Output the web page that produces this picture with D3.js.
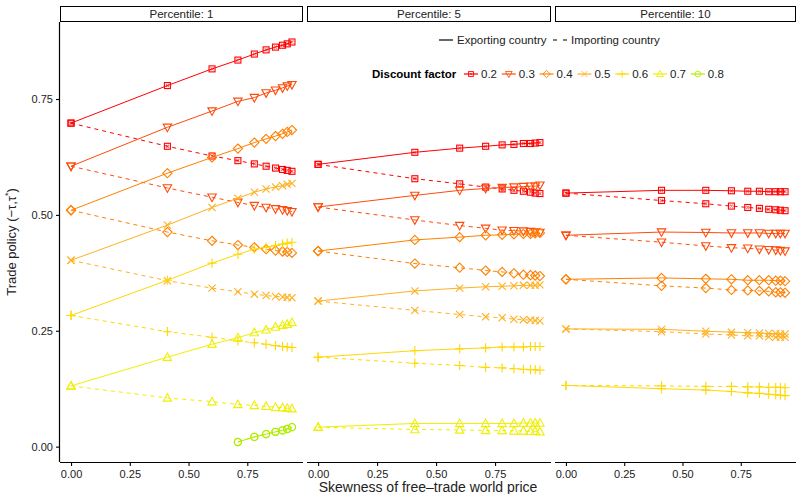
<!DOCTYPE html>
<html>
<head>
<meta charset="utf-8">
<script src="https://cdn.jsdelivr.net/npm/d3@7"></script>
<style>
  body { margin: 0; background: #fff; }
  text { font-family: "Liberation Sans", Arial, sans-serif; }
</style>
</head>
<body>
<div id="chart"></div>
<script>
// skewness of free-trade world price (x values shared by every series)
const skew = [0, 0.41, 0.6, 0.71, 0.78, 0.83, 0.87, 0.9, 0.92, 0.94];
const percentiles = [1, 5, 10];
const discount = ["0.2", "0.3", "0.4", "0.5", "0.6", "0.7", "0.8"];
const yTicks = [0, 0.25, 0.5, 0.75];
const xTicks = [0, 0.25, 0.5, 0.75];

// one row per discount factor, null = no value
const p1Export = [
  [0.698, 0.779, 0.815, 0.834, 0.847, 0.856, 0.862, 0.866, 0.869, 0.873],
  [0.605, 0.689, 0.724, 0.745, 0.753, 0.763, 0.769, 0.774, 0.778, 0.781],
  [0.510, 0.590, 0.624, 0.643, 0.656, 0.664, 0.670, 0.675, 0.679, 0.683],
  [0.402, 0.478, 0.516, 0.536, 0.549, 0.556, 0.560, 0.563, 0.566, 0.568],
  [0.283, 0.359, 0.396, 0.415, 0.426, 0.430, 0.434, 0.437, 0.439, 0.441],
  [0.131, 0.193, 0.221, 0.235, 0.246, 0.252, 0.258, 0.262, 0.264, 0.268],
  [null, null, null, 0.010, 0.021, 0.027, 0.032, 0.035, 0.038, 0.042]
];
const p1Import = [
  [0.698, 0.648, 0.627, 0.617, 0.610, 0.605, 0.601, 0.598, 0.596, 0.594],
  [0.605, 0.558, 0.538, 0.527, 0.520, 0.516, 0.513, 0.511, 0.509, 0.507],
  [0.510, 0.463, 0.444, 0.435, 0.430, 0.426, 0.423, 0.421, 0.420, 0.418],
  [0.402, 0.358, 0.342, 0.334, 0.329, 0.326, 0.324, 0.323, 0.322, 0.321],
  [0.283, 0.248, 0.236, 0.228, 0.224, 0.221, 0.218, 0.216, 0.215, 0.214],
  [0.131, 0.105, 0.097, 0.091, 0.089, 0.087, 0.085, 0.084, 0.083, 0.082],
  [null, null, null, 0.010, 0.021, 0.027, 0.032, 0.035, 0.038, 0.042]
];
const p5Export = [
  [0.609, 0.635, 0.644, 0.648, 0.651, 0.652, 0.654, 0.654, 0.655, 0.656],
  [0.517, 0.542, 0.553, 0.557, 0.559, 0.560, 0.561, 0.562, 0.562, 0.564],
  [0.422, 0.446, 0.452, 0.456, 0.457, 0.458, 0.459, 0.459, 0.460, 0.461],
  [0.314, 0.336, 0.342, 0.345, 0.346, 0.347, 0.348, 0.348, 0.348, 0.349],
  [0.193, 0.207, 0.211, 0.213, 0.215, 0.215, 0.215, 0.216, 0.216, 0.216],
  [0.042, 0.050, 0.050, 0.050, 0.050, 0.050, 0.051, 0.051, 0.051, 0.051],
  null
];
const p5Import = [
  [0.609, 0.578, 0.567, 0.560, 0.556, 0.553, 0.551, 0.549, 0.547, 0.546],
  [0.517, 0.489, 0.477, 0.471, 0.467, 0.466, 0.465, 0.464, 0.463, 0.462],
  [0.422, 0.395, 0.386, 0.380, 0.377, 0.374, 0.371, 0.370, 0.369, 0.368],
  [0.314, 0.294, 0.285, 0.280, 0.278, 0.275, 0.274, 0.273, 0.272, 0.271],
  [0.193, 0.180, 0.175, 0.171, 0.170, 0.168, 0.167, 0.166, 0.166, 0.165],
  [0.042, 0.037, 0.036, 0.035, 0.035, 0.034, 0.034, 0.033, 0.033, 0.032],
  null
];
const p10Export = [
  [0.547, 0.553, 0.553, 0.552, 0.551, 0.551, 0.550, 0.550, 0.550, 0.550],
  [0.456, 0.463, 0.462, 0.461, 0.461, 0.461, 0.460, 0.460, 0.460, 0.460],
  [0.361, 0.364, 0.362, 0.361, 0.359, 0.359, 0.359, 0.358, 0.358, 0.357],
  [0.254, 0.253, 0.249, 0.247, 0.246, 0.245, 0.244, 0.244, 0.243, 0.243],
  [0.132, 0.125, 0.122, 0.119, 0.116, 0.115, 0.113, 0.112, 0.111, 0.110],
  null,
  null
];
const p10Import = [
  [0.547, 0.531, 0.524, 0.519, 0.516, 0.514, 0.512, 0.511, 0.510, 0.509],
  [0.456, 0.441, 0.433, 0.429, 0.428, 0.426, 0.425, 0.424, 0.423, 0.422],
  [0.361, 0.347, 0.342, 0.338, 0.337, 0.336, 0.335, 0.333, 0.333, 0.332],
  [0.254, 0.248, 0.243, 0.241, 0.239, 0.239, 0.237, 0.236, 0.236, 0.236],
  [0.132, 0.131, 0.130, 0.130, 0.129, 0.129, 0.128, 0.128, 0.128, 0.127],
  null,
  null
];

const colors = ["#ff0000", "#ff4a0a", "#ff8000", "#ffb020", "#ffd800", "#eef000", "#b0ee00"];
const shapes = ["square", "tridown", "diamond", "cross", "plus", "triup", "circle"];

const panels = [
  {exp: p1Export, imp: p1Import},
  {exp: p5Export, imp: p5Import},
  {exp: p10Export, imp: p10Import}
];

const W = 796, H = 494;
const plotTop = 22, plotBottom = 462;
const panelX = [[60, 303], [307, 551], [555, 796]];

const svg = d3.select("#chart").append("svg")
  .attr("width", W).attr("height", H);

// ggplot-like 5% expansion
function expand(ext) {
  const r = ext[1] - ext[0];
  return [ext[0] - 0.05 * r, ext[1] + 0.05 * r];
}
let allY = [];
panels.forEach(p => [p.exp, p.imp].forEach(s => s.forEach(row => { if (row) row.forEach(v => { if (v != null) allY.push(v); }); })));
const y = d3.scaleLinear().domain(expand(d3.extent(allY))).range([plotBottom, plotTop]);

function symbol(g, shape, color) {
  const s = 3.6;
  if (shape === "square") {
    g.append("rect").attr("x", -3).attr("y", -3).attr("width", 6).attr("height", 6);
    g.append("path").attr("d", "M-1.5,-1.5L1.5,1.5M-1.5,1.5L1.5,-1.5").attr("opacity", 0.6);
  } else if (shape === "tridown") {
    g.append("path").attr("d", `M${-s - 0.6},${-s + 0.4}L${s + 0.6},${-s + 0.4}L0,${s + 0.8}Z`);
  } else if (shape === "triup") {
    g.append("path").attr("d", `M${-s - 0.6},${s - 0.4}L${s + 0.6},${s - 0.4}L0,${-s - 0.8}Z`);
  } else if (shape === "diamond") {
    g.append("path").attr("d", `M0,${-s - 1}L${s + 1},0L0,${s + 1}L${-s - 1},0Z`);
  } else if (shape === "cross") {
    g.append("path").attr("d", `M${-s},${-s}L${s},${s}M${-s},${s}L${s},${-s}`);
  } else if (shape === "plus") {
    g.append("path").attr("d", `M${-s - 1},0L${s + 1},0M0,${-s - 1}L0,${s + 1}`);
  } else if (shape === "circle") {
    g.append("circle").attr("r", s);
  }
  g.selectAll("*").attr("fill", "none").attr("stroke", color).attr("stroke-width", 1.1);
}

panels.forEach((p, pi) => {
  const x = d3.scaleLinear().domain(expand(d3.extent(skew))).range(panelX[pi]);
  const g = svg.append("g");

  // strip
  g.append("rect")
    .attr("x", panelX[pi][0] + 0.5).attr("y", 6.5)
    .attr("width", panelX[pi][1] - panelX[pi][0] - 1).attr("height", 15)
    .attr("fill", "#fff").attr("stroke", "#000").attr("stroke-width", 1);
  g.append("text")
    .attr("x", (panelX[pi][0] + panelX[pi][1]) / 2).attr("y", 18)
    .attr("text-anchor", "middle").attr("font-size", 11.5).attr("fill", "#222")
    .text("Percentile: " + percentiles[pi]);

  // x axis
  const xa = g.append("g").attr("transform", `translate(0,${plotBottom})`)
    .call(d3.axisBottom(x).tickValues(xTicks).tickFormat(d3.format(".2f")).tickSize(4).tickPadding(4));
  xa.select(".domain").attr("d", `M${panelX[pi][0]},0.5H${panelX[pi][1]}`).attr("stroke-width", 1.2);
  xa.selectAll(".tick line").attr("stroke-width", 1.1);
  xa.selectAll(".tick text").attr("font-size", 11).attr("fill", "#222")
    .style("font-family", "Liberation Sans, Arial, sans-serif");

  if (pi === 0) {
    const ya = g.append("g").attr("transform", `translate(${panelX[0][0]},0)`)
      .call(d3.axisLeft(y).tickValues(yTicks).tickFormat(d3.format(".2f")).tickSize(4).tickPadding(3));
    ya.select(".domain").attr("d", `M-0.5,${plotTop}V${plotBottom}`).attr("stroke-width", 1.2);
    ya.selectAll(".tick line").attr("stroke-width", 1.1);
    ya.selectAll(".tick text").attr("font-size", 11).attr("fill", "#222")
      .style("font-family", "Liberation Sans, Arial, sans-serif");
  }

  const line = d3.line()
    .defined(d => d.v != null)
    .x(d => x(d.x)).y(d => y(d.v));

  discount.forEach((dname, di) => {
    [["imp", "4,4"], ["exp", null]].forEach(([key, dash]) => {
      const row = p[key][di];
      if (!row) return;
      const pts = row.map((v, i) => ({x: skew[i], v: v}));
      g.append("path").datum(pts)
        .attr("d", line)
        .attr("fill", "none").attr("stroke", colors[di]).attr("stroke-width", 1)
        .attr("stroke-dasharray", dash);
      pts.filter(d => d.v != null).forEach(d => {
        const m = g.append("g").attr("transform", `translate(${x(d.x)},${y(d.v)})`);
        symbol(m, shapes[di], colors[di]);
      });
    });
  });
});

// axis titles
svg.append("text")
  .attr("x", (panelX[0][0] + panelX[2][1]) / 2).attr("y", 491.5)
  .attr("text-anchor", "middle").attr("font-size", 14).attr("fill", "#222")
  .text("Skewness of free\u2013trade world price");
const yt = svg.append("text")
  .attr("transform", `translate(16,${(plotTop + plotBottom) / 2}) rotate(-90)`)
  .attr("text-anchor", "middle").attr("font-size", 13).attr("fill", "#222");
yt.append("tspan").text("Trade policy (\u2212\u03c4,\u03c4");
yt.append("tspan").attr("font-size", 9).attr("dy", -5).text("*");
yt.append("tspan").attr("dy", 5).text(")");

// legend: line types
const lg1 = svg.append("g").attr("transform", "translate(439,40)");
lg1.append("line").attr("x1", 0).attr("x2", 14).attr("stroke", "#000").attr("stroke-width", 1.2);
lg1.append("text").attr("x", 18).attr("y", 4).attr("font-size", 11.5).attr("fill", "#222").text("Exporting country");
lg1.append("line").attr("x1", 114).attr("x2", 128).attr("stroke", "#000").attr("stroke-width", 1.2)
  .attr("stroke-dasharray", "4,6");
lg1.append("text").attr("x", 132).attr("y", 4).attr("font-size", 11.5).attr("fill", "#222").text("Importing country");

// legend: discount factor
const lg2 = svg.append("g").attr("transform", "translate(372,74)");
lg2.append("text").attr("x", 0).attr("y", 4).attr("font-size", 11.5).attr("font-weight", "bold")
  .attr("fill", "#000").text("Discount factor");
discount.forEach((dname, di) => {
  const e = lg2.append("g").attr("transform", `translate(${92 + di * 37.8},0)`);
  e.append("line").attr("x1", 0).attr("x2", 14).attr("stroke", colors[di]).attr("stroke-width", 1.2);
  const m = e.append("g").attr("transform", "translate(7,0)");
  symbol(m, shapes[di], colors[di]);
  m.attr("transform", "translate(7,0) scale(0.8)");
  e.append("text").attr("x", 17).attr("y", 4).attr("font-size", 11.5).attr("fill", "#222").text(dname);
});
</script>
</body>
</html>
